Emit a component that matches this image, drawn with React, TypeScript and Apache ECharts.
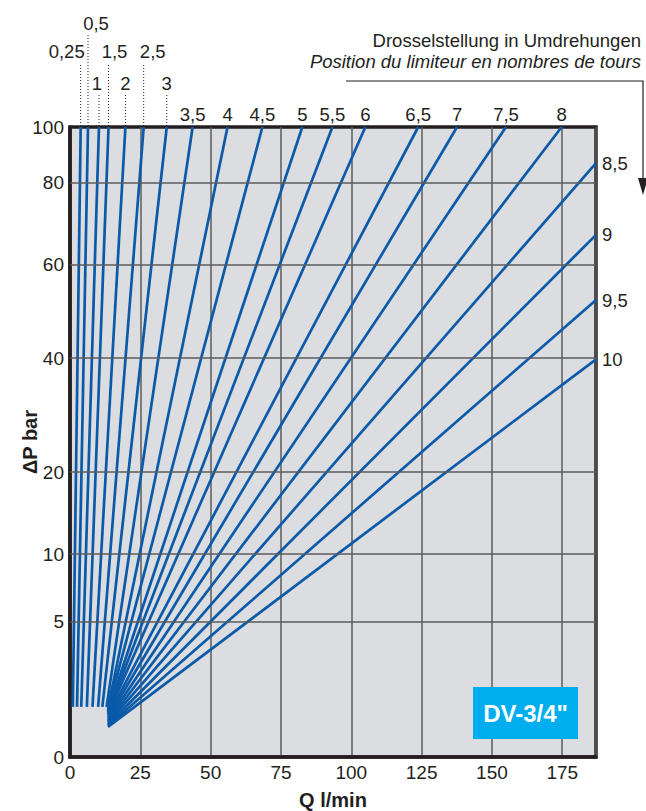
import React, { useEffect, useRef } from "react";
import * as echarts from "echarts";

// ---- data ----
const openingLabels = ["0,25", "0,5", "1", "1,5", "2", "2,5", "3", "3,5", "4", "4,5", "5", "5,5", "6", "6,5", "7", "7,5", "8", "8,5", "9", "9,5", "10"];
const startQ = [1.0, 2.5, 4.0, 6.0, 8.0, 10.0, 11.5, 13.0, 13.5, 13.5, 13.5, 13.5, 13.5, 13.5, 13.5, 13.5, 13.5, 13.5, 13.5, 13.5, 13.5];
const startP = [1.85, 1.85, 1.85, 1.85, 1.85, 1.85, 1.85, 1.85, 1.81, 1.74, 1.68, 1.63, 1.57, 1.52, 1.44, 1.37, 1.31, 1.26, 1.2, 1.15, 1.11];
const endQ = [3.8, 6.4, 10.3, 13.7, 19.7, 26.2, 34.4, 43.6, 56.0, 68.4, 82.6, 93.3, 105.0, 123.8, 137.6, 155.0, 174.8, 187, 187, 187, 187];
const endP = [100, 100, 100, 100, 100, 100, 100, 100, 100, 100, 100, 100, 100, 100, 100, 100, 100, 87.0, 67.2, 52.4, 39.8];
const pTicks = [0, 5, 10, 20, 40, 60, 80, 100];
// breakpoints of the chart's non-linear pressure scale (percent of axis height)
const pScale = [0, 21.5, 32.2, 45.2, 63.3, 78.2, 91.2, 100];
const qTicks = [0, 25, 50, 75, 100, 125, 150, 175];
const qMax = 187;
const title1 = "Drosselstellung in Umdrehungen";
const title2 = "Position du limiteur en nombres de tours";
const xName = "Q l/min";
const yName = "\u0394P bar";
const badge = 'DV-3/4"';

// ---- layout / style ----
const FONT = "'Liberation Sans', Arial, sans-serif";
const INK = "#231f20";
const BLUE = "#0b5aa9";
const GRID = "#5a5b5d";
const leaderLayout: Record<number, { tier: number; dx: number }> = {
  0: { tier: 2, dx: -14 },
  1: { tier: 3, dx: 8 },
  2: { tier: 1, dx: -2 },
  3: { tier: 2, dx: 6 },
  4: { tier: 1, dx: 0 },
  5: { tier: 2, dx: 9 },
  6: { tier: 1, dx: 0 },
};
const tierRise: Record<number, number> = { 1: 32, 2: 64, 3: 92 };

function yT(p: number): number {
  for (let i = 1; i < pTicks.length; i++) {
    if (p <= pTicks[i] || i === pTicks.length - 1) {
      const a = pTicks[i - 1], b = pTicks[i];
      return pScale[i - 1] + ((p - a) / (b - a)) * (pScale[i] - pScale[i - 1]);
    }
  }
  return 0;
}

export default function App() {
  const ref = useRef<HTMLDivElement>(null);
  useEffect(() => {
    if (!ref.current) return;
    const chart = echarts.init(ref.current, null, { renderer: "svg" });
    const series: any[] = [
      {
        type: "line",
        data: [],
        z: 1,
        silent: true,
        markLine: {
          silent: true,
          symbol: "none",
          label: { show: false },
          lineStyle: { color: GRID, width: 1.5, type: "solid" },
          data: pTicks.slice(1, -1).map((p) => ({ yAxis: yT(p) })),
        },
      },
    ];
    openingLabels.forEach((_, i) => {
      series.push({
        type: "line",
        z: 3,
        silent: true,
        showSymbol: false,
        lineStyle: { color: BLUE, width: 2.7 },
        data: [
          [startQ[i], yT(startP[i])],
          [endQ[i], yT(endP[i])],
        ],
      });
    });
    chart.setOption({
      animation: false,
      textStyle: { fontFamily: FONT },
      grid: {
        left: 70,
        top: 127,
        width: 526,
        height: 630,
        containLabel: false,
        outerBoundsMode: "none",
        show: true,
        backgroundColor: "#dcdde0",
        borderColor: INK,
        borderWidth: 3.5,
      },
      xAxis: {
        type: "value",
        min: 0,
        max: qMax,
        interval: 25,
        name: xName,
        nameLocation: "middle",
        nameGap: 33,
        nameMoveOverlap: false,
        nameTextStyle: { fontSize: 20, fontWeight: "bold", color: INK, fontFamily: FONT },
        axisLine: { show: true, lineStyle: { color: INK, width: 3.5 } },
        axisTick: { show: false },
        axisLabel: {
          fontSize: 19,
          color: INK,
          margin: 6,
          formatter: (v: number) => (qTicks.indexOf(v) >= 0 ? String(v) : ""),
        },
        splitLine: { show: true, lineStyle: { color: GRID, width: 1.5 } },
      },
      yAxis: {
        type: "value",
        min: 0,
        max: 100,
        name: yName,
        nameLocation: "middle",
        nameRotate: 90,
        nameGap: 30,
        nameMoveOverlap: false,
        nameTextStyle: { fontSize: 20, fontWeight: "bold", color: INK, fontFamily: FONT },
        axisLine: { show: true, lineStyle: { color: INK, width: 3.5 } },
        axisTick: { show: false, customValues: pScale },
        axisLabel: {
          fontSize: 19,
          color: INK,
          margin: 6,
          customValues: pScale,
          formatter: (v: number) => {
            const idx = pScale.findIndex((s) => Math.abs(s - v) < 1e-6);
            return idx >= 0 ? String(pTicks[idx]) : "";
          },
        },
        splitLine: { show: false },
      },
      series,
    });

    const top = chart.convertToPixel({ gridIndex: 0 }, [0, 100])[1];
    const gfx: any[] = [];
    const txt = (x: number, y: number, text: string, align: string) => ({
      type: "text",
      x,
      y,
      z: 20,
      style: { text, fill: INK, font: `18.5px ${FONT}`, textAlign: align, textVerticalAlign: "middle" },
    });
    openingLabels.forEach((lab, i) => {
      const [px, py] = chart.convertToPixel({ gridIndex: 0 }, [endQ[i], yT(endP[i])]);
      const lay = leaderLayout[i];
      if (lay) {
        const lt = top - tierRise[lay.tier];
        gfx.push({
          type: "line",
          z: 20,
          shape: { x1: px, y1: top - 1, x2: px, y2: lt },
          style: { stroke: INK, lineWidth: 1, lineDash: [1, 2] },
        });
        gfx.push(txt(px + lay.dx, lt - 12, lab, "center"));
      } else if (endP[i] >= 100) {
        gfx.push(txt(px, top - 13, lab, "center"));
      } else {
        gfx.push(txt(px + 6, py, lab, "left"));
      }
    });
    gfx.push(txt(641, 40, title1, "right"));
    gfx.push({
      type: "text",
      x: 641,
      y: 61,
      z: 20,
      style: { text: title2, fill: INK, font: `italic 18.5px ${FONT}`, textAlign: "right", textVerticalAlign: "middle" },
    });
    gfx.push({
      type: "polyline",
      z: 20,
      shape: { points: [[346, 81], [643, 81], [643, 182]] },
      style: { stroke: INK, lineWidth: 1.2, fill: "none" },
    });
    gfx.push({
      type: "polygon",
      z: 20,
      shape: { points: [[638, 178], [648, 178], [643, 195]] },
      style: { fill: INK },
    });
    gfx.push({
      type: "rect",
      z: 20,
      shape: { x: 473, y: 687, width: 105, height: 52 },
      style: { fill: "#00aeef" },
    });
    gfx.push({
      type: "text",
      x: 525.5,
      y: 713,
      z: 21,
      style: { text: badge, fill: "#ffffff", font: `bold 24px ${FONT}`, textAlign: "center", textVerticalAlign: "middle" },
    });
    chart.setOption({ graphic: gfx });
    return () => chart.dispose();
  }, []);
  return <div ref={ref} style={{ position: "fixed", left: 0, top: 0, width: 646, height: 811, background: "#ffffff" }} />;
}
